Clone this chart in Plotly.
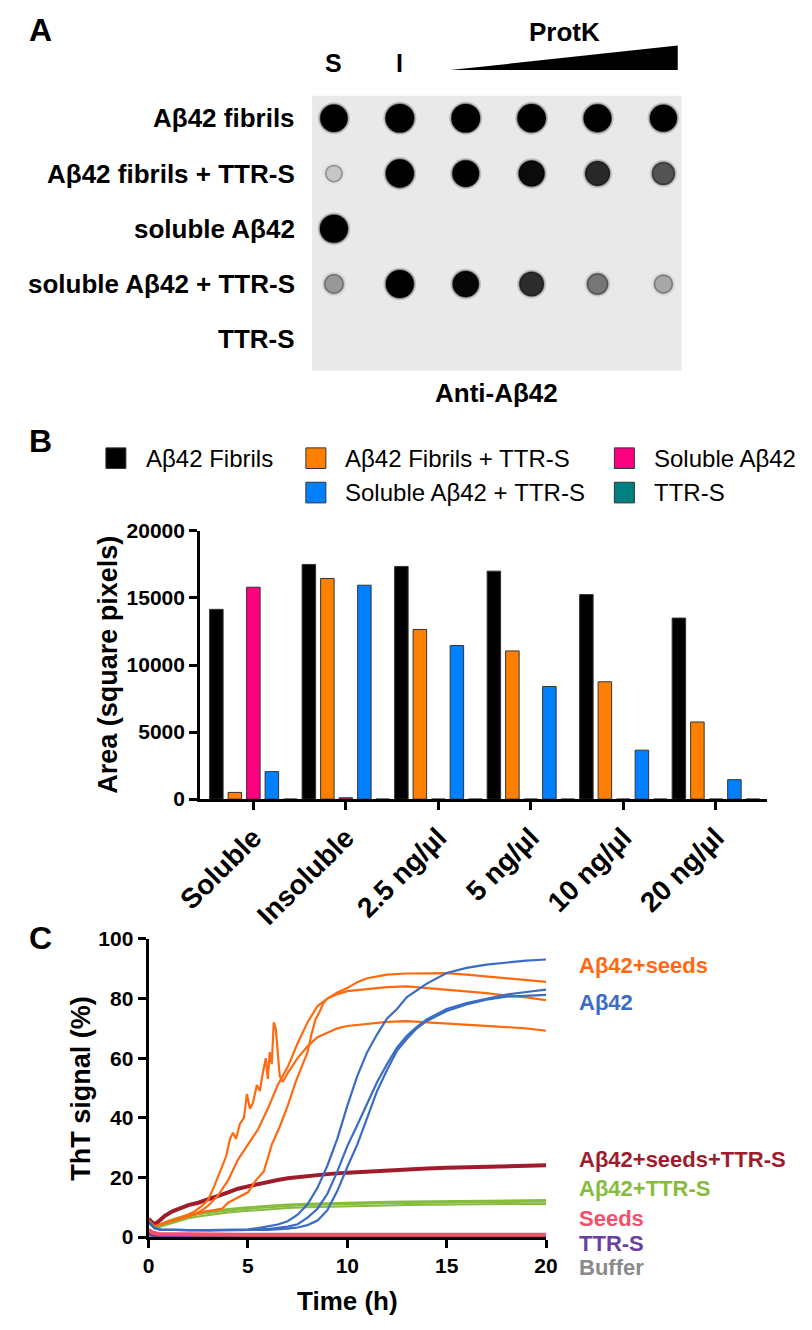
import math
import plotly.graph_objects as go

PAGE_W, PAGE_H = 812, 1330
OFF = 8                      # default body margin of the html page
W, H = PAGE_W - 2 * OFF, PAGE_H - 2 * OFF
def px(x): return (x - OFF) / W
def py(y): return 1 - (y - OFF) / H

FONT = "Liberation Sans, Arial, Helvetica, sans-serif"

# ---------------- Panel B data (dot area, square pixels) ----------------
categories = ["Soluble", "Insoluble", "2.5 ng/µl", "5 ng/µl", "10 ng/µl", "20 ng/µl"]
series_names = ["Aβ42 Fibrils", "Aβ42 Fibrils + TTR-S", "Soluble Aβ42",
                "Soluble Aβ42 + TTR-S", "TTR-S"]
series_colors = ["#000000", "#FF8000", "#FF0080", "#0080FF", "#008080"]
area_fibrils = [14150, 17500, 17350, 17000, 15250, 13500]
area_fibrils_ttr = [500, 16450, 12650, 11050, 8750, 5750]
area_soluble = [15800, 100, 0, 0, 0, 0]
area_soluble_ttr = [2050, 15950, 11450, 8400, 3650, 1450]
area_ttr = [0, 0, 0, 0, 0, 0]
area_series = [area_fibrils, area_fibrils_ttr, area_soluble, area_soluble_ttr, area_ttr]

# ---------------- Panel A (dot blot) labels ----------------
blot_row_labels = ["Aβ42 fibrils", "Aβ42 fibrils + TTR-S", "soluble Aβ42",
                   "soluble Aβ42 + TTR-S", "TTR-S"]
lane_labels = ["S", "I"]

# ---------------- Panel C data (ThT kinetics, %) ----------------
t_seed1 = [0, 0.3, 0.7, 1.2, 1.8, 2.3, 2.7, 3.0, 3.3, 3.6, 3.9, 4.1, 4.25, 4.4, 4.6, 4.8,
           4.95, 5.1, 5.25, 5.45, 5.6, 5.75, 5.9, 6.0, 6.1, 6.2, 6.3, 6.4, 6.5, 6.6, 6.75,
           7.0, 7.5, 8.0, 8.5, 9.0, 9.5, 10, 11, 12, 13, 14, 15, 16, 17, 18, 19, 20]
v_seed1 = [5.5, 3.5, 4.5, 5.5, 7, 8.5, 10.5, 12.5, 17, 22, 27, 33, 35, 33, 38, 40,
           48, 43, 45, 51, 49, 55, 60, 53, 62, 58, 72, 70, 62, 54, 52,
           55, 60, 64, 67, 68.5, 70, 70.8, 71.6, 72.2, 72.4, 72, 71.8, 71.4, 71, 70.6, 70, 69.2]
t_seed2 = [0, 0.3, 0.7, 1.2, 1.8, 2.3, 2.7, 3.0, 3.5, 4.0, 4.5, 5.0, 5.5, 6.0, 6.5, 7.0,
           7.5, 8.0, 8.5, 9.0, 9.5, 10, 10.5, 11, 11.5, 12, 13, 14, 15, 16, 17, 18, 19, 20]
v_seed2 = [5.5, 3.5, 4.5, 5.5, 6.5, 7.5, 9, 10.5, 14, 19, 26, 31, 36, 43, 51, 57,
           65, 72, 77.5, 80, 82, 83.5, 85.5, 86.8, 87.4, 88, 88.4, 88.5, 88.5, 88, 87.4, 86.9, 86.3, 85.6]
t_seed3 = [0, 0.3, 0.7, 1.2, 1.8, 2.3, 2.8, 3.3, 3.7, 4.0, 4.3, 4.6, 5.0, 5.4, 5.8, 6.2,
           6.6, 7.0, 7.4, 7.7, 8.0, 8.2, 8.4, 8.6, 8.8, 9.0, 9.5, 10, 11, 12, 13, 14,
           15, 16, 17, 18, 19, 20]
v_seed3 = [5.5, 3.5, 4.5, 5.5, 6.5, 7.5, 8.5, 9, 9.5, 11.5, 12.5, 13.5, 15, 19, 22, 31,
           37, 44, 52, 57, 62, 68, 73, 75.5, 78.5, 80, 81.5, 82.5, 83.2, 83.8, 84.1, 83.5,
           83, 82.5, 81.8, 81, 80.4, 79.5]

t_ab1 = [0, 0.3, 0.6, 1, 2, 3, 4, 5, 5.5, 6, 6.5, 7, 7.5, 8, 8.5, 9, 9.5, 10, 10.5, 11,
         11.5, 12, 12.5, 13, 14, 15, 16, 17, 18, 19, 20]
v_ab1 = [5, 3, 2.5, 2.4, 2.3, 2.3, 2.4, 2.6, 3, 3.5, 4.2, 5.3, 7.5, 11, 16.5, 24, 33, 44,
         54, 62, 68, 73.3, 76.5, 80.5, 85, 88.6, 90.3, 91.4, 92.1, 92.7, 93.1]
t_ab2 = [0, 0.3, 0.6, 1, 2, 3, 4, 5, 6, 6.5, 7, 7.5, 8, 8.5, 9, 9.5, 10, 10.5, 11, 11.5,
         12, 12.5, 13, 13.5, 14, 15, 16, 17, 18, 19, 20]
v_ab2 = [5, 3, 2.5, 2.4, 2.3, 2.3, 2.3, 2.4, 2.7, 3, 3.5, 4.3, 6.5, 9.5, 14.5, 22, 30.5,
         37.5, 45, 52, 58, 63.5, 67.5, 70.5, 73, 76.5, 78.5, 80, 81.3, 82.2, 83]
t_ab3 = [0, 0.3, 0.6, 1, 2, 3, 4, 5, 6, 7, 7.5, 8, 8.5, 9, 9.5, 10, 10.5, 11, 11.5, 12,
         12.5, 13, 13.5, 14, 15, 16, 17, 18, 19, 20]
v_ab3 = [5, 3, 2.5, 2.4, 2.3, 2.2, 2.2, 2.3, 2.4, 2.8, 3.2, 4, 5.5, 9, 15.5, 23.5, 31, 40,
         49, 56, 62.5, 66.5, 70, 72.5, 75.8, 78, 79.6, 80.6, 81, 81.2]

t_seedttr = [0, 0.15, 0.3, 0.5, 0.8, 1.2, 1.6, 2, 2.5, 3, 3.5, 4, 4.5, 5, 5.5, 6, 6.5, 7,
             7.5, 8, 9, 10, 11, 12, 13, 14, 15, 16, 17, 18, 19, 20]
v_seedttr = [6, 5, 4.3, 5.2, 7, 8.6, 9.8, 10.7, 11.5, 12.5, 13.8, 15, 16.2, 17, 17.8, 18.5,
             19.1, 19.7, 20.1, 20.5, 21.1, 21.6, 22, 22.4, 22.7, 23, 23.2, 23.4, 23.6,
             23.8, 24, 24.1]

t_abttr = [0, 0.15, 0.35, 0.6, 1, 1.5, 2, 2.5, 3, 4, 5, 6, 7, 8, 9, 10, 11, 12, 13, 14,
           15, 16, 17, 18, 19, 20]
v_abttr1 = [5, 4, 3.3, 4.2, 5.5, 6.6, 7.5, 8.1, 8.6, 9.4, 10, 10.5, 10.9, 11.2, 11.4,
            11.6, 11.7, 11.8, 11.9, 12, 12.1, 12.2, 12.2, 12.3, 12.3, 12.4]
v_abttr2 = [5, 4, 3.2, 3.9, 5, 6.1, 7, 7.6, 8.1, 8.9, 9.5, 10, 10.4, 10.7, 10.9, 11.1,
            11.2, 11.3, 11.4, 11.5, 11.6, 11.6, 11.7, 11.7, 11.8, 11.8]
v_abttr3 = [5, 3.8, 3, 3.5, 4.5, 5.5, 6.3, 6.9, 7.4, 8.2, 8.8, 9.3, 9.7, 10, 10.2, 10.4,
            10.5, 10.6, 10.7, 10.8, 10.9, 10.9, 11, 11, 11.1, 11.1]

t_ctrl = [0, 0.2, 0.5, 1, 2, 5, 10, 15, 20]
v_seeds = [2.5, 1.5, 1.0, 0.9, 0.9, 0.8, 0.8, 0.8, 0.8]
v_ttrs = [1.2, 0.6, 0.3, 0.2, 0.2, 0.2, 0.2, 0.2, 0.2]
v_buffer = [0.6, 0.2, 0.0, 0.0, 0.0, 0.0, 0.0, 0.0, 0.0]

c_labels = ["Aβ42+seeds", "Aβ42", "Aβ42+seeds+TTR-S", "Aβ42+TTR-S", "Seeds", "TTR-S", "Buffer"]
c_colors = ["#FF6A10", "#3B6CC5", "#9E1C2C", "#86BC3C", "#F4506C", "#6A3FA0", "#8A8A8A"]

fig = go.Figure()

# ================= Panel A: dot blot (spots sized/shaded from the measured areas) ==========
BG_GRAY = 233
for r, (name, areas) in enumerate(zip(series_names, area_series)):
    xs, ys, sizes, cols, lines = [], [], [], [], []
    for cat, a in zip(categories, areas):
        if a < 300:
            continue
        dark = min(1.0, a / 12000.0) ** 0.6
        g = max(0, int(BG_GRAY - 233 * dark))
        xs.append(cat); ys.append(name)
        sizes.append(14 + 0.1 * math.sqrt(a))
        cols.append(f"rgb({g},{g},{g})")
        lg = int(g * 0.72)
        lines.append(f"rgb({lg},{lg},{lg})")
    if not xs:
        continue
    for extra, op in ((6, 0.18), (3, 0.4)):
        fig.add_trace(go.Scatter(x=xs, y=ys, mode="markers", xaxis="x3", yaxis="y3",
                                 marker=dict(size=[s + extra for s in sizes], color=cols,
                                             opacity=op, line=dict(width=0)),
                                 hoverinfo="skip", showlegend=False))
    fig.add_trace(go.Scatter(x=xs, y=ys, mode="markers", xaxis="x3", yaxis="y3",
                             marker=dict(size=sizes, color=cols, opacity=1,
                                         line=dict(width=1.5, color=lines)),
                             name=name, showlegend=False))

# ================= Panel B: bars =================
for name, vals, col in zip(series_names, area_series, series_colors):
    fig.add_trace(go.Bar(x=categories, y=vals, name=name, xaxis="x", yaxis="y",
                         marker=dict(color=col, line=dict(color="#333333", width=1)),
                         showlegend=False))

# ================= Panel C: kinetics =================
def line(t, v, col, w):
    fig.add_trace(go.Scatter(x=t, y=v, mode="lines", xaxis="x2", yaxis="y2",
                             line=dict(color=col, width=w), showlegend=False, hoverinfo="skip"))

line(t_ctrl, v_buffer, c_colors[6], 3)
line(t_ctrl, v_ttrs, c_colors[5], 3)
line(t_ctrl, v_seeds, c_colors[4], 4)
for v in (v_abttr1, v_abttr2, v_abttr3):
    line(t_abttr, v, c_colors[3], 2)
line(t_seedttr, v_seedttr, c_colors[2], 4)
for t, v in ((t_seed1, v_seed1), (t_seed2, v_seed2), (t_seed3, v_seed3)):
    line(t, v, c_colors[0], 2.2)
for t, v in ((t_ab1, v_ab1), (t_ab2, v_ab2), (t_ab3, v_ab3)):
    line(t, v, c_colors[1], 2.2)

axis_style = dict(showline=True, linewidth=3, linecolor="black", ticks="outside",
                  ticklen=8, tickwidth=3, tickcolor="black", showgrid=False, zeroline=False)

fig.update_layout(
    width=W, height=H, margin=dict(l=0, r=0, t=0, b=0),
    paper_bgcolor="white", plot_bgcolor="white", showlegend=False,
    font=dict(family=FONT, color="black"),
    barmode="group", bargap=0.0, bargroupgap=0.27,
    xaxis=dict(domain=[px(182.5), px(778)], anchor="y", type="category",
               categoryarray=categories, range=[-0.575, 5.555], tickangle=-45,
               tickfont=dict(size=28, weight="bold"), **axis_style),
    yaxis=dict(domain=[py(801), py(528)], anchor="x", range=[0, 20000],
               tickvals=[0, 5000, 10000, 15000, 20000], tickformat="d",
               tickfont=dict(size=21, weight="bold"), **axis_style),
    xaxis2=dict(domain=[px(128.3), px(545.7)], anchor="y2", range=[0, 20],
                tickvals=[0, 5, 10, 15, 20], tickfont=dict(size=21, weight="bold"), **axis_style),
    yaxis2=dict(domain=[py(1246.7), py(943.3)], anchor="x2", range=[0, 100],
                tickvals=[0, 20, 40, 60, 80, 100], tickfont=dict(size=21, weight="bold"),
                **axis_style),
    xaxis3=dict(domain=[px(300), px(688)], anchor="y3", type="category",
                categoryarray=categories, range=[-0.332, 5.275], visible=False),
    yaxis3=dict(domain=[py(365), py(85)], anchor="x3", type="category",
                categoryarray=series_names, range=[4.569, -0.409], visible=False),
)

shapes = []
# blot membrane
shapes.append(dict(type="rect", xref="x3 domain", yref="y3 domain", x0=0, x1=1, y0=0, y1=1,
                   fillcolor="#e9e9e9", line=dict(width=0), layer="below"))
# ProtK wedge
shapes.append(dict(type="path", xref="x3", yref="paper",
                   path=f"M 1.763,{py(59)} L 5.217,{py(34)} L 5.217,{py(59)} Z",
                   fillcolor="black", line=dict(width=0)))

ann = []
def text(x, y, s, size, bold=True, xanchor="center", color="black", xref="paper", yref="paper",
         angle=0):
    ann.append(dict(x=x, y=y, xref=xref, yref=yref, text=(f"<b>{s}</b>" if bold else s),
                    showarrow=False, xanchor=xanchor, yanchor="middle", textangle=angle,
                    font=dict(size=size, color=color, family=FONT)))

# panel letters
text(px(15), py(18), "A", 32)
text(px(15), py(437), "B", 32)
text(px(15), py(942), "C", 32)

# Panel A texts
for lbl, cat in zip(lane_labels, categories):
    text(cat, py(52), lbl, 25, xref="x3")
text(3.497, py(20), "ProtK", 26, xref="x3")
for lbl, name in zip(blot_row_labels, series_names):
    text(px(284), name, lbl, 26, xanchor="right", yref="y3")
text(px(494), py(388), "Anti-Aβ42", 26)

# Panel B legend (manual layout, 3 + 2 entries)
leg_pos = [(0, 0), (0, 1), (0, 2), (1, 1), (1, 2)]
col_sq = [94, 304, 628]
row_y = [454, 489]
for (rr, cc), name, col in zip(leg_pos, series_names, series_colors):
    cx, cy = col_sq[cc], row_y[rr]
    shapes.append(dict(type="rect", xref="paper", yref="paper",
                       x0=px(cx - 10.5), x1=px(cx + 10.5), y0=py(cy + 10.5), y1=py(cy - 10.5),
                       fillcolor=col, line=dict(color="#333333", width=1)))
    text(px(cx + 29), py(cy), name, 24, bold=False, xanchor="left")

# Panel B y title
text(px(85), py(664), "Area (square pixels)", 27, angle=-90)

# Panel C titles
text(px(57), py(1095), "ThT signal (%)", 27, angle=-90)
text(px(337), py(1312), "Time (h)", 26)
c_label_y = [970, 1008, 1168, 1197, 1228, 1253, 1278]
for lbl, col, yy in zip(c_labels, c_colors, c_label_y):
    text(px(578), py(yy), lbl, 22, xanchor="left", color=col)

fig.update_layout(shapes=shapes, annotations=ann)

fig.write_html("out.html", config={"displayModeBar": False})
